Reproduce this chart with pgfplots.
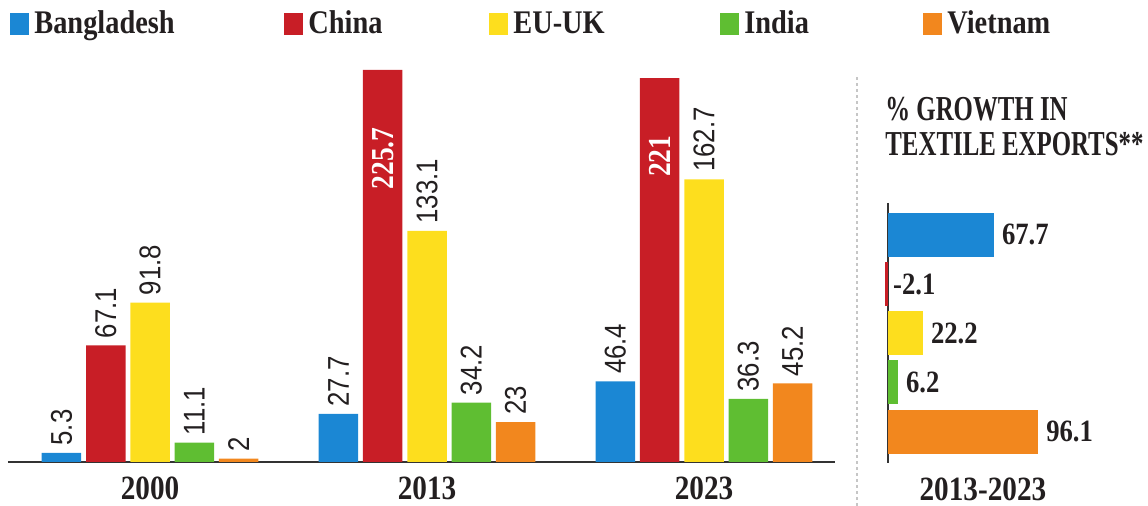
\documentclass[border=0pt]{standalone}
\usepackage{fontspec}
\usepackage{pgfplots}
\pgfplotsset{compat=1.18}
\newfontfamily\serifc{Liberation Serif}[FakeStretch=0.86]
\newfontfamily\titlef{Liberation Serif}[FakeStretch=0.71]
\newfontfamily\sansc{Liberation Sans}[FakeStretch=0.86]
\setmainfont{Liberation Serif}
\definecolor{cBlue}{RGB}{27,135,212}
\definecolor{cRed}{RGB}{200,30,38}
\definecolor{cYellow}{RGB}{253,222,30}
\definecolor{cGreen}{RGB}{95,190,50}
\definecolor{cOrange}{RGB}{242,135,30}
\definecolor{labcol}{RGB}{35,31,32}
\begin{document}
\begin{tikzpicture}
\useasboundingbox (0,0) rectangle (574pt,253pt);
% separator
\draw[gray!45, line width=1.4pt, dash pattern=on 1.5pt off 1.5pt] (428.5pt,0pt) -- (428.5pt,215.5pt);
\begin{axis}[
  at={(4pt,22pt)}, anchor=south west, scale only axis,
  width=413.5pt, height=201pt,
  xmin=-0.513, xmax=2.473, ymin=0, ymax=231.4,
  ybar=2.4pt, bar width=19.75pt,
  axis x line=bottom, axis y line=none,
  x axis line style={-, draw=black!80, line width=0.8pt},
  xtick={0,1,2}, xticklabels={2000,2013,2023},
  major tick length=0pt,
  xticklabel style={font=\serifc\bfseries\fontsize{17}{17}\selectfont, text=labcol, anchor=base, yshift=-19pt, inner sep=0pt},
  /pgf/number format/assume math mode=true,
  nodes near coords,
  every node near coord/.append style={rotate=90, anchor=west, inner sep=0pt, xshift=3.5pt, font=\sansc\fontsize{15}{15}\selectfont, text=labcol},
  legend columns=5,
  legend cell align=left,
  legend image code/.code={\fill[#1] (0pt,-5.5pt) rectangle (9.5pt,5.5pt);},
  legend style={at={(0.0024,1.0896)}, anchor=west, draw=none, fill=none, inner sep=0pt,
    font=\serifc\bfseries\fontsize{16.5}{18}\selectfont, text=labcol,
    /tikz/every odd column/.append style={column sep=2.5pt},
    /tikz/every even column/.append style={column sep=0pt},
    nodes={inner sep=0pt}},
]
\addplot[fill=cBlue, draw=none] coordinates {(0,5.3) (1,27.7) (2,46.4)};
\addplot[fill=cRed, draw=none,
  nodes near coords={\ifdim\pgfplotspointmetatransformed pt>900pt\llap{\serifc\bfseries\fontsize{16}{16}\selectfont\color{white}\pgfmathprintnumber{\pgfplotspointmeta}\hspace{33pt}}\else\pgfmathprintnumber{\pgfplotspointmeta}\fi}]
  coordinates {(0,67.1) (1,225.7) (2,221)};
\addplot[fill=cYellow, draw=none] coordinates {(0,91.8) (1,133.1) (2,162.7)};
\addplot[fill=cGreen, draw=none] coordinates {(0,11.1) (1,34.2) (2,36.3)};
\addplot[fill=cOrange, draw=none] coordinates {(0,2) (1,23) (2,45.2)};
\legend{\makebox[125pt][l]{Bangladesh},\makebox[90.5pt][l]{China},\makebox[103.5pt][l]{EU-UK},\makebox[89.5pt][l]{India},Vietnam}
\end{axis}
\begin{axis}[
  at={(440.1pt,21.5pt)}, anchor=south west, scale only axis,
  width=128.7pt, height=130pt,
  xmin=-5, xmax=160, ymin=-0.65, ymax=4.64, y dir=reverse,
  xbar, bar width=22pt, bar shift=0pt,
  axis x line=none, axis y line=middle,
  y axis line style={-, draw=black!80, line width=0.8pt},
  xtick=\empty, ytick=\empty,
  clip=false,
  /pgf/number format/assume math mode=true,
  nodes near coords,
  every node near coord/.append style={anchor=west, inner sep=0pt, xshift=4pt, font=\serifc\bfseries\fontsize{15.5}{16}\selectfont, text=labcol},
  title={\% GROWTH IN\\TEXTILE EXPORTS**},
  title style={at={(axis description cs:0.0187,1.3615)}, anchor=north west, align=left, inner sep=0pt,
    font=\titlef\bfseries\fontsize{17.5}{17.5}\selectfont, text=labcol},
]
\addplot[fill=cBlue, draw=none] coordinates {(67.7,0)};
\addplot[fill=cRed, draw=none] coordinates {(-2.1,1)};
\addplot[fill=cYellow, draw=none] coordinates {(22.2,2)};
\addplot[fill=cGreen, draw=none] coordinates {(6.2,3)};
\addplot[fill=cOrange, draw=none] coordinates {(96.1,4)};
\node[anchor=base, inner sep=0pt, font=\serifc\bfseries\fontsize{17}{17}\selectfont, text=labcol] at (axis description cs:0.399,-0.146) {2013-2023};
\end{axis}
\end{tikzpicture}
\end{document}
